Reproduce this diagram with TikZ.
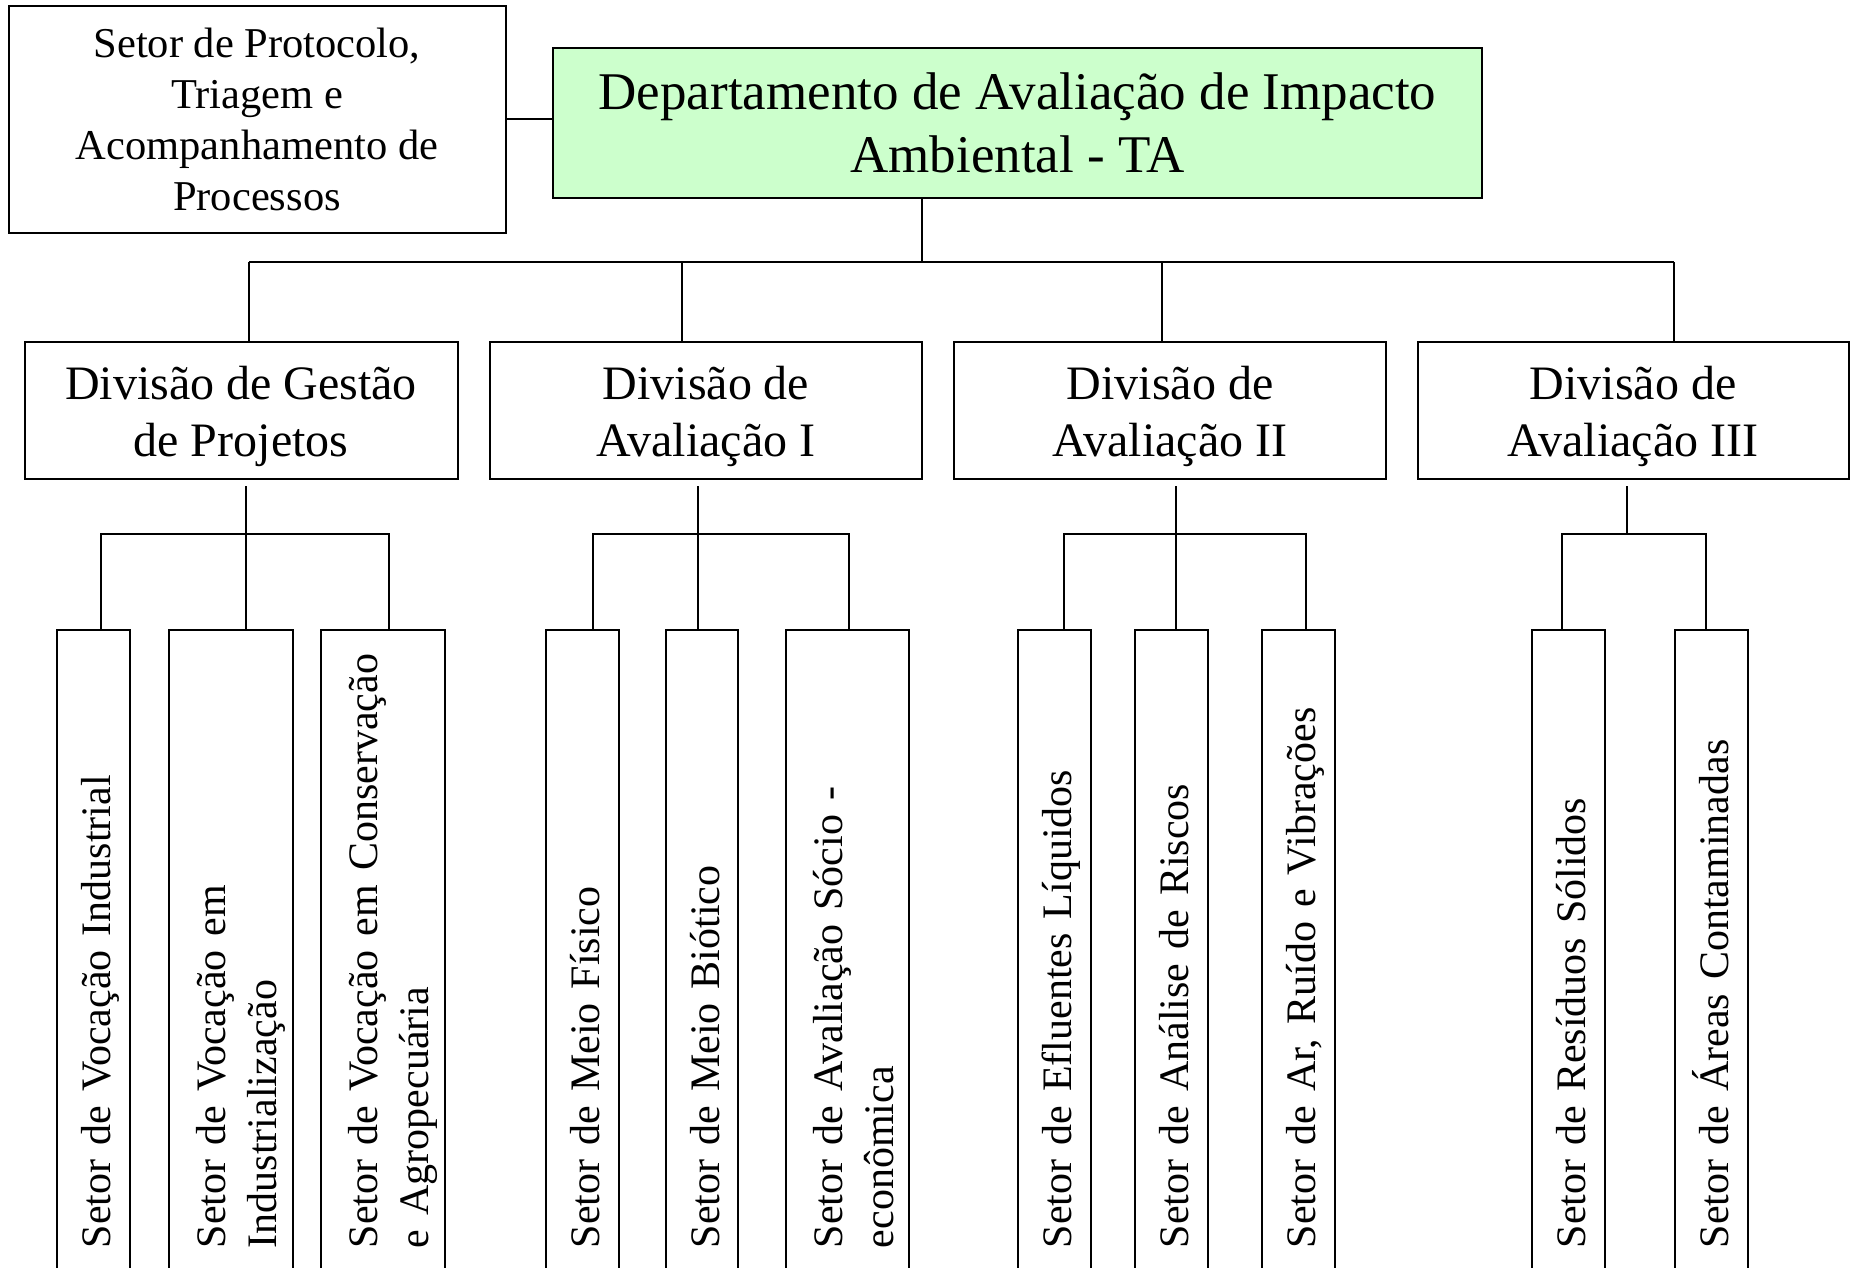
\documentclass[tikz,border=0pt]{standalone}
\usepackage{fontspec}
\setmainfont{Liberation Serif}
\definecolor{deptgreen}{HTML}{CCFFCC}
\newcommand{\divlines}[1]{\raisebox{-6.5pt}[\height][\depth]{\begin{tabular}{@{}c@{}}#1\end{tabular}}}
\newcommand{\setlines}[2][7pt]{\raisebox{-#1}[\height][\depth]{\begin{tabular}{@{}l@{}}#2\end{tabular}}}
\tikzstyle{orgbox} = [draw, line width=2pt, rectangle, inner sep=0pt]
\tikzstyle{divbox} = [orgbox, minimum width=432pt, minimum height=137pt,
font=\fontsize{48}{57}\selectfont]
\tikzstyle{setbox} = [draw, line width=2pt, rectangle, rotate=90, anchor=east,
align=left, text width=590pt, inner xsep=28pt, minimum width=646pt,
font=\fontsize{42}{51}\selectfont]
\tikzstyle{link} = [line width=2pt]

\begin{document}
\begin{tikzpicture}[x=1pt, y=-1pt]
                    \useasboundingbox (0,0) rectangle (1850,1268);
                    \clip (0,0) rectangle (1850,1268);
                    % topo
                    \node[orgbox, align=center, minimum width=497pt, minimum height=227pt, font=\fontsize{42.5}{51}\selectfont] (proto) at (257,119.5) {Setor de Protocolo,\\Triagem e\\Acompanhamento de\\Processos};
                    \node[orgbox, align=center, fill=deptgreen, minimum width=929pt, minimum height=150pt, font=\fontsize{53}{63}\selectfont] (dept) at (1017.5,123) {Departamento de Avalia\c{c}\~ao de Impacto\\Ambiental - TA};
                    % divisoes
                    \node[divbox, minimum width=433pt] (div1) at (241,410.5) {\divlines{Divis\~ao de Gest\~ao\\de Projetos}};
                    \node[divbox] (div2) at (706,410.5) {\divlines{Divis\~ao de\\Avalia\c{c}\~ao I}};
                    \node[divbox] (div3) at (1170,410.5) {\divlines{Divis\~ao de\\Avalia\c{c}\~ao II}};
                    \node[divbox, minimum width=431pt] (div4) at (1633,410.5) {\divlines{Divis\~ao de\\Avalia\c{c}\~ao III}};
                    % setores
                    \node[setbox, minimum height=73pt] (s11) at (93.5,629) {\setlines{Setor de Voca\c{c}\~ao Industrial}};
                    \node[setbox, minimum height=124pt] (s12) at (231,629) {\setlines[10pt]{Setor de Voca\c{c}\~ao em\\Industrializa\c{c}\~ao}};
                    \node[setbox, minimum height=124pt] (s13) at (383,629) {\setlines[10pt]{Setor de Voca\c{c}\~ao em Conserva\c{c}\~ao\\e Agropecu\'aria}};
                    \node[setbox, minimum height=73pt] (s21) at (582.5,629) {\setlines{Setor de Meio F\'isico}};
                    \node[setbox, minimum height=72pt] (s22) at (702,629) {\setlines{Setor de Meio Bi\'otico}};
                    \node[setbox, minimum height=123pt] (s23) at (847.5,629) {\setlines[10pt]{Setor de Avalia\c{c}\~ao S\'ocio -\\econ\^omica}};
                    \node[setbox, minimum height=73pt] (s31) at (1054.5,629) {\setlines{Setor de Efluentes L\'iquidos}};
                    \node[setbox, minimum height=73pt] (s32) at (1171.5,629) {\setlines{Setor de An\'alise de Riscos}};
                    \node[setbox, minimum height=73pt] (s33) at (1298.5,629) {\setlines{Setor de Ar, Ru\'ido e Vibra\c{c}\~oes}};
                    \node[setbox, minimum height=73pt] (s41) at (1568,629) {\setlines{Setor de Res\'iduos S\'olidos}};
                    \node[setbox, minimum height=73pt] (s42) at (1711.5,629) {\setlines{Setor de \'Areas Contaminadas}};
                    % ligacoes do topo
                    \coordinate (top) at (922,262);
                    \coordinate (t1) at (249,262);
                    \coordinate (t2) at (681.6,262);
                    \coordinate (t3) at (1162,262);
                    \coordinate (t4) at (1674,262);
                    \draw[link] (proto.east) -- (proto.east -| dept.west);
                    \draw[link] (top |- dept.south) -- (top);
                    \draw[link] (t1) -- (t4);
                    \draw[link] (t1) -- (t1 |- div1.north);
                    \draw[link] (t2) -- (t2 |- div2.north);
                    \draw[link] (t3) -- (t3 |- div3.north);
                    \draw[link] (t4) -- (t4 |- div4.north);
                    % ligacoes das divisoes
                    \coordinate (g1s) at (245.5,486);
                    \coordinate (g1l) at (101,534);
                    \coordinate (g1r) at (389,534);
                    \draw[link] (g1s) -- (g1s |- s12.east);
                    \draw[link] (g1l |- s11.east) -- (g1l) -- (g1r) -- (g1r |- s13.east);
                    \coordinate (g2s) at (697.5,486);
                    \coordinate (g2l) at (593,534);
                    \coordinate (g2r) at (849,534);
                    \draw[link] (g2s) -- (g2s |- s22.east);
                    \draw[link] (g2l |- s21.east) -- (g2l) -- (g2r) -- (g2r |- s23.east);
                    \coordinate (g3s) at (1175.6,486);
                    \coordinate (g3l) at (1064,534);
                    \coordinate (g3r) at (1306,534);
                    \draw[link] (g3s) -- (g3s |- s32.east);
                    \draw[link] (g3l |- s31.east) -- (g3l) -- (g3r) -- (g3r |- s33.east);
                    \coordinate (g4s) at (1627,486);
                    \coordinate (g4l) at (1562,534);
                    \coordinate (g4r) at (1706,534);
                    \draw[link] (g4s) -- (g4s |- g4l);
                    \draw[link] (g4l |- s41.east) -- (g4l) -- (g4r) -- (g4r |- s42.east);
                \end{tikzpicture}
\end{document}
